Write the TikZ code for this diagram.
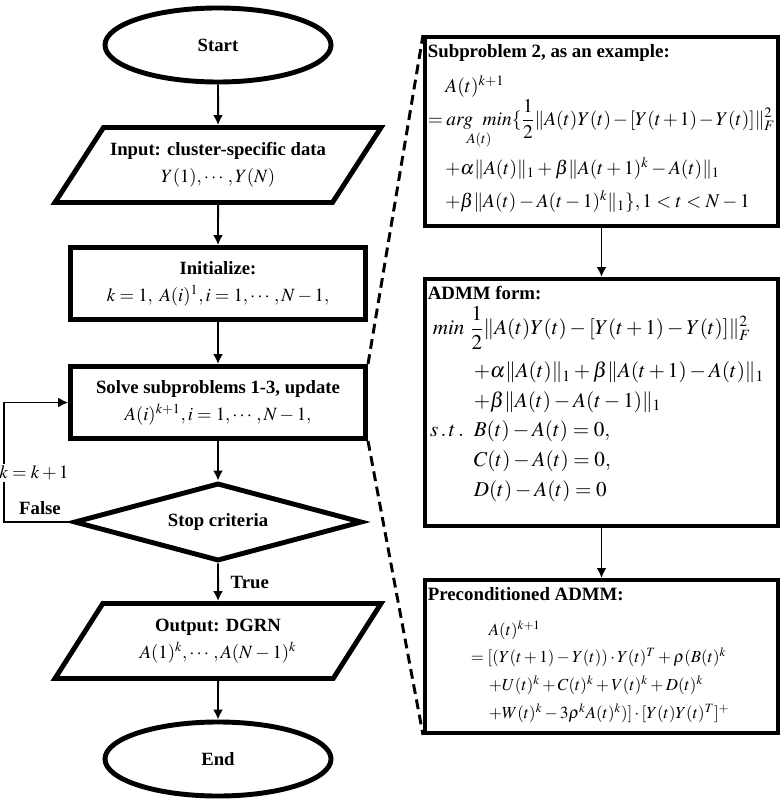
\documentclass[tikz,border=0pt]{standalone}
\usepackage{mathptmx}
\usepackage{amsmath}
\usepackage[no-math]{fontspec}
\setmainfont{Liberation Serif}
\usetikzlibrary{shapes.geometric, arrows.meta, positioning}

\newcommand{\mathlines}[2]{\fontsize{#1}{#2}\selectfont\binoppenalty=10000\relpenalty=10000}

\begin{document}
\begin{tikzpicture}[
    x=0.025cm, y=-0.025cm,
    font=\fontsize{13.3}{19}\selectfont,
    terminal/.style={
        ellipse,
        draw,
        line width=3.5pt,
        minimum width=5.65cm,
        minimum height=1.85cm,
        font=\fontsize{13.3}{19}\selectfont\bfseries
    },
    io/.style={
        trapezium,
        trapezium left angle=48,
        trapezium right angle=132,
        trapezium stretches body,
        draw,
        line width=3.5pt,
        minimum width=8.15cm,
        minimum height=1.875cm,
        align=center
    },
    stepbox/.style={
        rectangle,
        draw,
        line width=3.5pt,
        minimum width=7.375cm,
        minimum height=1.8cm,
        align=center
    },
    decision/.style={
        diamond,
        aspect=3.7,
        draw,
        line width=3.5pt,
        minimum width=7.2cm,
        minimum height=1.95cm,
        inner sep=1pt,
        font=\fontsize{13.3}{19}\selectfont\bfseries
    },
    mathbox/.style={
        rectangle,
        draw,
        line width=2.85pt,
        inner xsep=2pt,
        inner ysep=3.5pt,
        font=\fontsize{13.4}{16}\selectfont
    },
    arrow/.style={
        ->,
        >={Latex[length=7pt,width=7pt]},
        line width=1.4pt
    },
    loopline/.style={
        ->,
        >={Latex[length=7pt,width=7pt]},
        line width=1.1pt
    },
    zoomline/.style={
        line width=2.1pt,
        dash pattern=on 7pt off 4pt
    },
    flowtag/.style={
        font=\fontsize{13.3}{16}\selectfont\bfseries
    }
]

% Page frame
\useasboundingbox (0,0) rectangle (782,806);

% Main flow
\node[terminal] (start) at (218,45) {Start};
\node[io] (input) at (218,165) {\textbf{Input: cluster-specific data}\\ $Y(1),\cdots,Y(N)$};
\node[stepbox] (init) at (218,283.5) {\textbf{Initialize:}\\ $k=1,\ A(i)^1,i=1,\cdots,N-1,$};
\node[stepbox] (solve) at (218,402.5) {\textbf{Solve subproblems 1-3, update}\\ $A(i)^{k+1},i=1,\cdots,N-1,$};
\node[decision] (stop) at (218,522) {Stop criteria};
\node[io] (output) at (218,641) {\textbf{Output: DGRN}\\ $A(1)^k,\cdots,A(N-1)^k$};
\node[terminal] (finish) at (218,759) {End};

% Detail boxes
\node[mathbox] (sub2) at (601.5,131.5) {%
  \parbox[c][127.4pt][t]{247pt}{\raggedright\vspace*{1.5pt}
    \textbf{Subproblem 2, as an example:}\par\vspace{6.5pt}
    \mathlines{13.8}{18.5}
    \hspace*{12.5pt}$A(t)^{k+1}$\\[0.5pt]
    $\displaystyle =\mathop{arg\ \ min}\limits_{A(t)}\{\frac{1}{2}\|A(t)Y(t)-[Y(t+1)-Y(t)]\|_F^2$\\[5pt]
    \hspace*{12.5pt}$+\alpha\|A(t)\|_1+\beta\|A(t+1)^k-A(t)\|_1$\\[5.5pt]
    \hspace*{12.5pt}$+\beta\|A(t)-A(t-1)^k\|_1\},1<t<N-1$}};
\node[mathbox] (admm) at (601.5,402.5) {%
  \parbox[c][168.7pt][t]{247pt}{\raggedright\vspace*{1.5pt}
    \textbf{ADMM form:}\par\vspace{4.4pt}
    \mathlines{15}{21}
    \hspace*{3.6pt}$\displaystyle min\ \frac{1}{2}\|A(t)Y(t)-[Y(t+1)-Y(t)]\|_F^2$\\[8pt]
    \hspace*{32.7pt}$+\alpha\|A(t)\|_1+\beta\|A(t+1)-A(t)\|_1$\\
    \hspace*{32.7pt}$+\beta\|A(t)-A(t-1)\|_1$\\
    \makebox[32.7pt][l]{$\,s\,.\,t\,.$}$B(t)-A(t)=0,$\\
    \hspace*{32.7pt}$C(t)-A(t)=0,$\\
    \hspace*{32.7pt}$D(t)-A(t)=0$}};
\node[mathbox] (precond) at (601.5,656.5) {%
  \parbox[c][101.8pt][t]{247pt}{\raggedright\vspace*{1.5pt}
    \textbf{Preconditioned ADMM:}\par\vspace{5.2pt}
    \mathlines{12}{19.7}
    \hspace*{43.4pt}$A(t)^{k+1}$\\
    \hspace*{30.6pt}$=[(Y(t+1)-Y(t))\cdot Y(t)^T+\rho(B(t)^k$\\
    \hspace*{43.4pt}$+U(t)^k+C(t)^k+V(t)^k+D(t)^k$\\
    \hspace*{43.4pt}$+W(t)^k-3\rho^kA(t)^k)]\cdot[Y(t)Y(t)^T]^+$}};

% Connections
\draw[arrow] (start) -- (input);
\draw[arrow] (input) -- (init);
\draw[arrow] (init) -- (solve);
\draw[arrow] (solve) -- (stop);
\draw[arrow] (stop) -- node[flowtag, right=5pt] (yes) {True} (output);
\draw[arrow] (output) -- (finish);
\draw[arrow] (sub2) -- (admm);
\draw[arrow] (admm) -- (precond);

% Loop back
\coordinate (corner) at (4,522);
\draw[loopline] (stop.west) -- (corner) |- (solve.west);
\node[flowtag] (no) at (40,508) {False};
\node[fill=white, inner sep=1pt] (incr) at (34,473) {$k=k+1$};

% Zoom lines
\draw[zoomline] (solve.north east) -- (sub2.north west);
\draw[zoomline] (solve.south east) -- (precond.south west);

\end{tikzpicture}
\end{document}
